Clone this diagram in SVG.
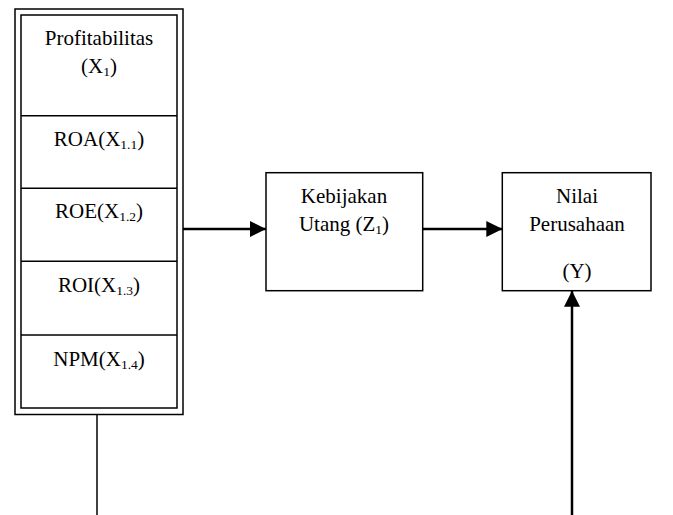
<svg xmlns="http://www.w3.org/2000/svg" width="673" height="515" viewBox="0 0 673 515">
<style>
.box{fill:#fff;stroke:#000;stroke-width:1.5}
.t{font-family:'Liberation Serif','Times New Roman','DejaVu Serif',serif;font-size:21px;fill:#000;text-anchor:middle}
.s{font-size:13.5px}
.c{stroke:#000;fill:none}
</style>
<defs>
<marker id="ah" markerWidth="16" markerHeight="16" refX="16" refY="8" orient="auto" markerUnits="userSpaceOnUse">
<path d="M0,0 L16,8 L0,16 Z" fill="#000"/>
</marker>
</defs>
<rect width="673" height="515" fill="#fff"/>
<g id="profitabilitas">
<rect class="box" x="15" y="9" width="168" height="405.5"/>
<rect class="box" x="21" y="15" width="156" height="393"/>
<line class="c" x1="21" y1="115.7" x2="177" y2="115.7" stroke-width="1.5"/>
<line class="c" x1="21" y1="188.3" x2="177" y2="188.3" stroke-width="1.5"/>
<line class="c" x1="21" y1="261.3" x2="177" y2="261.3" stroke-width="1.5"/>
<line class="c" x1="21" y1="335" x2="177" y2="335" stroke-width="1.5"/>
<text class="t" x="99" y="45">Profitabilitas</text>
<text class="t" x="99" y="73">(X<tspan class="s" dy="3">1</tspan><tspan dy="-3">)</tspan></text>
<text class="t" x="99" y="145.7">ROA(X<tspan class="s" dy="3">1.1</tspan><tspan dy="-3">)</tspan></text>
<text class="t" x="99" y="218.3">ROE(X<tspan class="s" dy="3">1.2</tspan><tspan dy="-3">)</tspan></text>
<text class="t" x="99" y="291.7">ROI(X<tspan class="s" dy="3">1.3</tspan><tspan dy="-3">)</tspan></text>
<text class="t" x="99" y="365.7">NPM(X<tspan class="s" dy="3">1.4</tspan><tspan dy="-3">)</tspan></text>
</g>
<g id="kebijakan">
<rect class="box" x="266" y="172.7" width="156.7" height="118"/>
<text class="t" x="344" y="202.7">Kebijakan</text>
<text class="t" x="344" y="230.7">Utang (Z<tspan class="s" dy="3">1</tspan><tspan dy="-3">)</tspan></text>
</g>
<g id="nilai">
<rect class="box" x="502.3" y="172.7" width="148.7" height="118"/>
<text class="t" x="577" y="202.7">Nilai</text>
<text class="t" x="577" y="230.7">Perusahaan</text>
<text class="t" x="577" y="278">(Y)</text>
</g>
<g id="connectors">
<line class="c" x1="183" y1="229" x2="266" y2="229" stroke-width="2.5" marker-end="url(#ah)"/>
<line class="c" x1="422.7" y1="229" x2="502.3" y2="229" stroke-width="2.5" marker-end="url(#ah)"/>
<line class="c" x1="97" y1="414.5" x2="97" y2="515" stroke-width="1.5"/>
<line class="c" x1="572" y1="515" x2="572" y2="290.7" stroke-width="2.5" marker-end="url(#ah)"/>
</g>
</svg>
